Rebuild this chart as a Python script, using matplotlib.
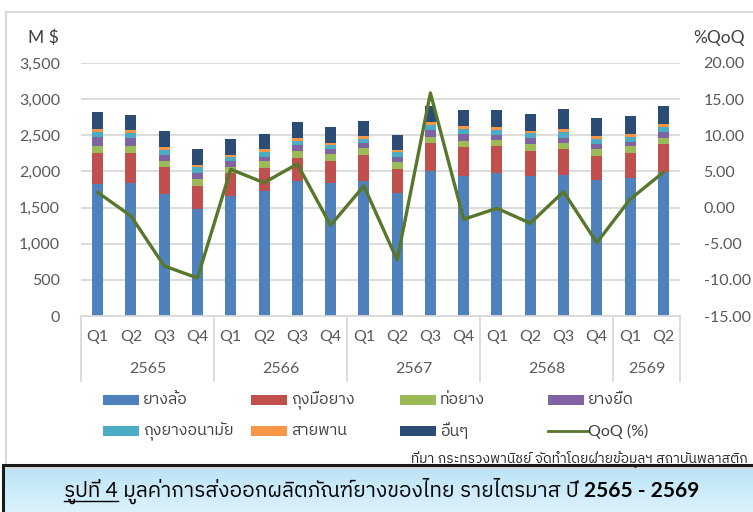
import numpy as np
import matplotlib
matplotlib.use('Agg')
import matplotlib.pyplot as plt
from matplotlib import font_manager as fm
from matplotlib.ft2font import FT2Font
from matplotlib.patches import Rectangle
from matplotlib.lines import Line2D
import matplotlib.transforms as mtrans
from matplotlib.ticker import FuncFormatter, MultipleLocator

# ---------------- data ----------------
quarters = ['Q1', 'Q2', 'Q3', 'Q4'] * 4 + ['Q1', 'Q2']
years = ['2565', '2566', '2567', '2568', '2569']
year_sizes = [4, 4, 4, 4, 2]

tires = [1820, 1835, 1690, 1480, 1665, 1735, 1870, 1840, 1870, 1705, 2005, 1940, 1975, 1940, 1950, 1880, 1910, 1990]
gloves = [440, 425, 365, 325, 310, 315, 320, 305, 360, 335, 385, 395, 370, 345, 355, 335, 345, 385]
hoses = [95, 95, 95, 95, 90, 95, 95, 90, 95, 90, 90, 90, 90, 90, 90, 95, 90, 90]
elastic = [125, 105, 80, 80, 85, 55, 75, 70, 65, 70, 95, 95, 70, 85, 70, 75, 65, 85]
condoms = [70, 65, 70, 80, 50, 70, 65, 65, 65, 70, 65, 65, 70, 65, 80, 70, 70, 70]
belts = [35, 45, 35, 25, 30, 35, 35, 25, 35, 25, 40, 40, 35, 40, 40, 35, 35, 40]
others = [235, 205, 225, 225, 215, 210, 220, 215, 205, 210, 225, 225, 240, 235, 275, 245, 245, 250]
qoq = [2.11, -1.16, -8.08, -9.74, 5.29, 3.44, 6.03, -2.45, 2.99, -7.25, 15.85, -1.62, -0.10, -2.17, 2.20, -4.86, 1.15, 4.88]

series_names = ['ยางล้อ', 'ถุงมือยาง', 'ท่อยาง', 'ยางยืด', 'ถุงยางอนามัย', 'สายพาน', 'อื่นๆ']
line_name = 'QoQ (%)'
left_unit = 'M $'
right_unit = '%QoQ'
source_text = 'ที่มา กระทรวงพานิชย์ จัดทำโดยฝ่ายข้อมูลฯ สถาบันพลาสติก'
cap1 = 'รูปที่ 4'
cap2 = ' มูลค่าการส่งออกผลิตภัณฑ์ยางของไทย รายไตรมาส ปี '
cap3 = '2565 - 2569'

colors = ['#4F81BD', '#C0504D', '#9BBB59', '#8064A2', '#4BACC6', '#F79646', '#2B4C74']
line_color = '#58772B'

# ---------------- fonts ----------------
thai_fams = []
for f in fm.fontManager.ttflist:
    try:
        ft = FT2Font(f.fname)
        if ft.get_char_index(0x0E01) and ft.get_char_index(0x0E39) and ft.get_char_index(0x0E48):
            thai_fams.append(f.name)
    except Exception:
        pass
thai_fams = sorted(set(thai_fams), key=lambda n: (0 if 'Thai' in n else 1, 0 if 'Sans' in n else 1, 'Looped' in n, n))
fam = ['Lato'] + thai_fams[:1] + ['DejaVu Sans']
plt.rcParams['font.family'] = fam

W, H = 753, 512
fig = plt.figure(figsize=(W / 100, H / 100), dpi=100)
fig.patch.set_facecolor('white')

def fx(px):
    return px / W

def fy(py):
    return 1 - py / H

# outer chart border
fig.patches.append(Rectangle((fx(6), fy(468)), fx(760) - fx(6), fy(12) - fy(468),
                             transform=fig.transFigure, fill=False, edgecolor='#D9D9D9', lw=1.5))

ax = fig.add_axes([fx(81), fy(316), fx(680) - fx(81), fy(63) - fy(316)])
x = np.arange(len(quarters))
bw = 0.33
bottom = np.zeros(len(x))
bars = []
for vals, c, n in zip([tires, gloves, hoses, elastic, condoms, belts, others], colors, series_names):
    b = ax.bar(x, vals, bw, bottom=bottom, color=c, label=n, zorder=2)
    bars.append(b)
    bottom += np.array(vals)

ax.set_xlim(-0.5, len(x) - 0.5)
ax.set_ylim(0, 3500)
ax.yaxis.set_major_locator(MultipleLocator(500))
ax.yaxis.set_major_formatter(FuncFormatter(lambda v, p: f'{int(v):,}'))
ax.grid(axis='y', color='#D9D9D9', lw=1.3, zorder=0)
ax.set_axisbelow(True)
for s in ['top', 'right', 'left']:
    ax.spines[s].set_visible(False)
ax.spines['bottom'].set_color('#D9D9D9')
ax.spines['bottom'].set_linewidth(1.3)
ax.tick_params(axis='y', length=0, pad=15, labelsize=11.5, labelcolor='#595959')
ax.set_xticks([])

# category labels (two levels)
trans = mtrans.blended_transform_factory(ax.transData, ax.transAxes)
for i, q in enumerate(quarters):
    ax.text(i, -0.083, q, transform=trans, ha='center', va='center', fontsize=11.5, color='#595959')
start = 0
bounds = [-0.5]
for yr, sz in zip(years, year_sizes):
    ax.text(start + (sz - 1) / 2, -0.21, yr, transform=trans, ha='center', va='center',
            fontsize=11.5, color='#595959')
    start += sz
    bounds.append(start - 0.5)
for b in bounds:
    ax.add_line(Line2D([b, b], [0, -0.255], transform=trans, color='#D9D9D9', lw=1.3, clip_on=False))

ax2 = ax.twinx()
ax2.plot(x, qoq, color=line_color, lw=2.4, label=line_name, zorder=3)
ax2.set_ylim(-15, 20)
ax2.yaxis.set_major_locator(MultipleLocator(5))
ax2.yaxis.set_major_formatter(FuncFormatter(lambda v, p: f'{v:.2f}'))
for s in ax2.spines.values():
    s.set_visible(False)
ax2.tick_params(axis='y', length=0, pad=17, labelsize=11.5, labelcolor='#595959')

fig.text(fx(28), fy(38), left_unit, fontsize=12.5, color='#404040', va='center', ha='left')
fig.text(fx(693), fy(38), right_unit, fontsize=12.5, color='#404040', va='center', ha='left')

# legend (manual, Excel-like grid)
col_x = [103, 251, 400, 548]
row_y = [400, 431]
for k in range(8):
    r, c = divmod(k, 4)
    px, py = col_x[c], row_y[r]
    if k < 7:
        fig.patches.append(Rectangle((fx(px), fy(py + 5)), fx(36), 10 / H, transform=fig.transFigure,
                                     facecolor=colors[k], edgecolor='none'))
        label = series_names[k]
    else:
        fig.lines.append(Line2D([fx(px), fx(px + 40)], [fy(py), fy(py)], transform=fig.transFigure,
                                color=line_color, lw=2.0))
        label = line_name
    fig.text(fx(px + 40), fy(py), label, fontsize=11.5, color='#404040', va='center', ha='left')

fig.text(fx(748), fy(459), source_text, fontsize=10, color='#262626', va='center', ha='right')

# caption box with gradient
cax = fig.add_axes([fx(3), 0, 1 - fx(3), fy(465)])
grad = np.linspace(0, 1, 64).reshape(-1, 1)
c_top = np.array([0.73, 0.89, 0.96])
c_bot = np.array([0.86, 0.95, 0.99])
img = c_top[None, None, :] * (1 - grad[:, :, None]) + c_bot[None, None, :] * grad[:, :, None]
cax.imshow(img, aspect='auto', extent=[0, 1, 0, 1], origin='upper')
cax.set_xlim(0, 1)
cax.set_ylim(0, 1)
cax.axis('off')
fig.patches.append(Rectangle((fx(3), fy(540)), fx(800), fy(465) - fy(540), transform=fig.transFigure,
                             fill=False, edgecolor='#1a1a1a', lw=2.2, zorder=10))

# caption text, pieces laid out side by side
fig.canvas.draw()
rend = fig.canvas.get_renderer()
base_y = fy(497)
t1 = fig.text(0, base_y, cap1, fontsize=15, color='black', va='baseline', ha='left')
t2 = fig.text(0, base_y, cap2, fontsize=15, color='black', va='baseline', ha='left')
t3 = fig.text(0, base_y, cap3, fontsize=15, color='black', va='baseline', ha='left', fontweight='bold')
ws = [t.get_window_extent(rend).width for t in (t1, t2, t3)]
total = sum(ws)
x0 = 382 - total / 2
t1.set_x(fx(x0))
t2.set_x(fx(x0 + ws[0]))
t3.set_x(fx(x0 + ws[0] + ws[1]))
fig.lines.append(Line2D([fx(x0), fx(x0 + ws[0])], [fy(501), fy(501)], transform=fig.transFigure,
                        color='black', lw=1.0))

fig.savefig('out.png', dpi=100)
